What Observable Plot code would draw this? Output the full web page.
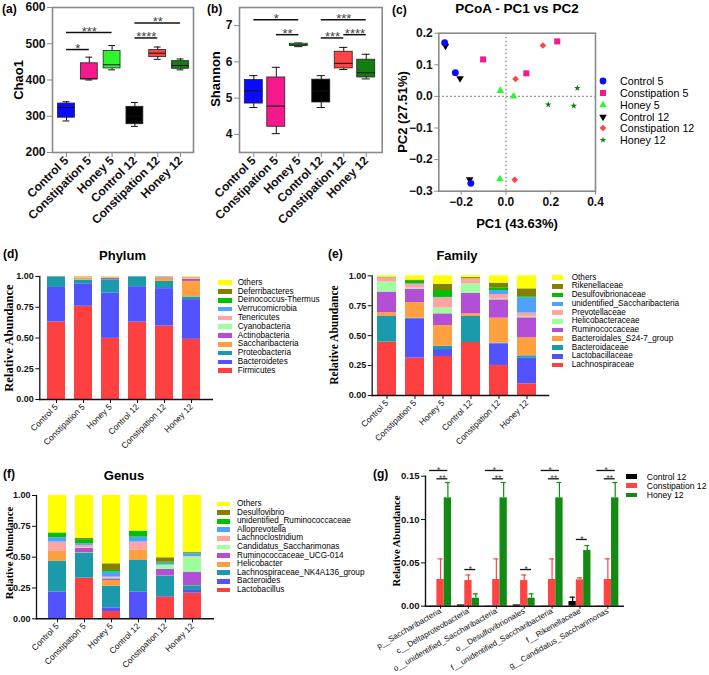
<!DOCTYPE html>
<html><head><meta charset="utf-8">
<script src="https://cdn.jsdelivr.net/npm/d3@7"></script>
<script src="https://cdn.jsdelivr.net/npm/@observablehq/plot@0.6"></script>
<style>
body{margin:0;background:#fff;}
#fig{position:relative;width:709px;height:675px;overflow:hidden;background:#fff;color:#000;}
#fig svg{position:absolute;background:none;max-width:none;}
</style></head><body><div id="fig"></div>
<script>
const SANS = '"Liberation Sans", Arial, Helvetica, sans-serif';
const SERIF = '"Liberation Serif", "Times New Roman", serif';

// ---------- shared groups ----------
const groups = ["Control 5", "Constipation 5", "Honey 5", "Control 12", "Constipation 12", "Honey 12"];
const groupColors = ["#0a0aff", "#f5198c", "#2ef52e", "#000000", "#ff4444", "#127e12"];

// ---------- (a) Chao1 box summaries ----------
const chao1Min    = [287, 400, 428, 272, 457, 428];
const chao1Q1     = [296, 402, 432, 278, 463, 431];
const chao1Median = [324, 403, 442, 300, 474, 440];
const chao1Q3     = [335, 446, 480, 326, 483, 452];
const chao1Max    = [340, 463, 495, 338, 491, 458];
const chao1Ticks  = [200, 300, 400, 500, 600];
const chao1SigFrom  = [0, 0, 3, 3];
const chao1SigTo    = [1, 2, 4, 5];
const chao1SigY     = [484, 531, 516, 557];
const chao1SigLabel = ["*", "***", "****", "**"];

// ---------- (b) Shannon box summaries ----------
const shannonMin    = [4.74, 4.02, 6.42, 4.74, 5.79, 5.53];
const shannonQ1     = [4.85, 4.21, 6.44, 4.88, 5.82, 5.57];
const shannonMedian = [5.20, 4.78, 6.47, 5.20, 5.96, 5.70];
const shannonQ3     = [5.50, 5.57, 6.50, 5.51, 6.28, 6.06];
const shannonMax    = [5.62, 5.85, 6.52, 5.62, 6.40, 6.21];
const shannonTicks  = [4, 5, 6, 7];
const shannonSigFrom  = [0, 1, 3, 3, 4];
const shannonSigTo    = [2, 2, 5, 4, 5];
const shannonSigY     = [7.16, 6.75, 7.16, 6.66, 6.75];
const shannonSigLabel = ["*", "**", "***", "***", "****"];

// ---------- (c) PCoA ----------
const pcoaGroup = ["Control 5","Control 5","Control 5","Constipation 5","Constipation 5","Constipation 5",
  "Honey 5","Honey 5","Honey 5","Control 12","Control 12","Control 12",
  "Constipation 12","Constipation 12","Constipation 12","Honey 12","Honey 12","Honey 12"];
const pc1 = [-0.274, -0.226, -0.157, -0.102, 0.091, 0.229, -0.025, 0.034, -0.027,
  -0.270, -0.205, -0.162, 0.165, 0.043, 0.039, 0.319, 0.189, 0.303];
const pc2 = [0.170, 0.075, -0.275, 0.117, 0.073, 0.174, 0.018, 0.000, -0.262,
  0.160, 0.057, -0.263, 0.161, 0.055, -0.264, 0.026, -0.026, -0.030];
const pcoaXTicks = [-0.2, 0, 0.2, 0.4];
const pcoaYTicks = [-0.3, -0.2, -0.1, 0, 0.1, 0.2];

// ---------- stacked composition (bottom -> top) ----------
const taxonPalette = ["#ff4040", "#5252ff", "#1a9aab", "#ffa040", "#b24fd6", "#9dff9d", "#ffa3a3", "#4da3ff", "#00c000", "#838000", "#ffff00"];

const phylumTaxa = ["Firmicutes","Bacteroidetes","Proteobacteria","Saccharibacteria","Actinobacteria","Cyanobacteria","Tenericutes","Verrucomicrobia","Deinococcus-Thermus","Deferribacteres","Others"];
const phylumShares = [
  [0.630, 0.758, 0.497, 0.629, 0.597, 0.489],
  [0.281, 0.183, 0.369, 0.288, 0.304, 0.323],
  [0.087, 0.029, 0.107, 0.081, 0.059, 0.021],
  [0.000, 0.013, 0.001, 0.000, 0.027, 0.127],
  [0.000, 0.003, 0.012, 0.000, 0.004, 0.018],
  [0.000, 0.001, 0.002, 0.000, 0.001, 0.002],
  [0.001, 0.005, 0.005, 0.001, 0.004, 0.010],
  [0.000, 0.001, 0.001, 0.000, 0.001, 0.001],
  [0.000, 0.001, 0.001, 0.000, 0.001, 0.001],
  [0.000, 0.003, 0.001, 0.000, 0.001, 0.002],
  [0.001, 0.003, 0.004, 0.001, 0.001, 0.006]
];

const familyTaxa = ["Lachnospiraceae","Lactobacillaceae","Bacteroidaceae","Bacteroidales_S24-7_group","Ruminococcaceae","Helicobacteraceae","Prevotellaceae","unidentified_Saccharibacteria","Desulfovibrionaceae","Rikenellaceae","Others"];
const familyShares = [
  [0.446, 0.312, 0.326, 0.443, 0.251, 0.097],
  [0.000, 0.329, 0.058, 0.000, 0.181, 0.215],
  [0.214, 0.005, 0.028, 0.217, 0.005, 0.019],
  [0.031, 0.131, 0.173, 0.022, 0.209, 0.151],
  [0.173, 0.112, 0.097, 0.173, 0.153, 0.167],
  [0.083, 0.008, 0.048, 0.078, 0.006, 0.006],
  [0.036, 0.031, 0.086, 0.042, 0.039, 0.033],
  [0.000, 0.005, 0.003, 0.000, 0.033, 0.128],
  [0.003, 0.020, 0.058, 0.004, 0.023, 0.009],
  [0.002, 0.011, 0.051, 0.007, 0.039, 0.066],
  [0.012, 0.036, 0.072, 0.014, 0.061, 0.109]
];

const genusTaxa = ["Lactobacillus","Bacteroides","Lachnospiraceae_NK4A136_group","Helicobacter","Ruminococcaceae_UCG-014","Candidatus_Saccharimonas","Lachnoclostridium","Alloprevotella","unidentified_Ruminococcaceae","Desulfovibrio","Others"];
const genusShares = [
  [0.000, 0.328, 0.059, 0.000, 0.176, 0.208],
  [0.217, 0.002, 0.030, 0.216, 0.005, 0.022],
  [0.248, 0.202, 0.176, 0.257, 0.162, 0.038],
  [0.084, 0.004, 0.046, 0.081, 0.003, 0.002],
  [0.002, 0.035, 0.013, 0.002, 0.054, 0.108],
  [0.000, 0.005, 0.006, 0.000, 0.032, 0.122],
  [0.071, 0.019, 0.008, 0.066, 0.004, 0.005],
  [0.036, 0.014, 0.040, 0.040, 0.015, 0.022],
  [0.037, 0.033, 0.014, 0.047, 0.008, 0.005],
  [0.002, 0.010, 0.054, 0.002, 0.036, 0.008],
  [0.303, 0.348, 0.554, 0.289, 0.505, 0.460]
];
const shareTicks = [0, 0.25, 0.5, 0.75, 1];

// ---------- (g) differential taxa ----------
const gTaxa = ["p__Saccharibacteria","c__Deltaproteobacteria","o__unidentified_Saccharibacteria","o__Desulfovibrionales","f__unidentified_Saccharibacteria","f__Rikenellaceae","g__Candidatus_Saccharimonas"];
const gSeries = ["Control 12", "Constipation 12", "Honey 12"];
const gColors = ["#000000", "#ff4444", "#138a13"];
const gControl     = [0.0003, 0.0015, 0.0003, 0.0015, 0.0003, 0.0054, 0.0003];
const gControlErr  = [0, 0, 0, 0, 0, 0.0050, 0];
const gConst       = [0.0308, 0.0296, 0.0308, 0.0296, 0.0308, 0.0304, 0.0308];
const gConstErr    = [0.0238, 0.0064, 0.0238, 0.0064, 0.0238, 0.0023, 0.0238];
const gHoney       = [0.1250, 0.0092, 0.1250, 0.0092, 0.1250, 0.0642, 0.1250];
const gHoneyErr    = [0.0177, 0.0050, 0.0177, 0.0050, 0.0177, 0.0058, 0.0177];
const gTicks = [0, 0.05, 0.10, 0.15];
const gSigTaxon = [0, 0, 1, 2, 2, 3, 4, 4, 5, 6, 6];
const gSigFrom  = [0, 1, 1, 0, 1, 1, 0, 1, 1, 0, 1];
const gSigTo    = [2, 2, 2, 2, 2, 2, 2, 2, 2, 2, 2];
const gSigY     = [0.1566, 0.147, 0.0423, 0.1566, 0.147, 0.0423, 0.1566, 0.147, 0.077, 0.1566, 0.147];
const gSigLabel = ["*", "**", "*", "*", "**", "*", "*", "**", "*", "*", "**"];

// ---------- helpers ----------
const fig = document.getElementById("fig");
function place(svg, left, top) {
  svg.style.position = "absolute";
  svg.style.left = left + "px";
  svg.style.top = top + "px";
  fig.appendChild(svg);
}
function label(txt, x, y, o = {}) {
  const d = document.createElement("div");
  d.textContent = txt;
  d.style.position = "absolute";
  d.style.whiteSpace = "nowrap";
  d.style.left = x + "px";
  d.style.top = y + "px";
  d.style.fontSize = (o.size || 12) + "px";
  d.style.fontWeight = o.weight || "normal";
  d.style.fontFamily = o.family || SANS;
  d.style.lineHeight = o.lh || "1";
  d.style.color = o.color || "#000";
  const tx = o.anchor === "middle" ? "-50%" : "0";
  d.style.transform = `translate(${tx},-50%)` + (o.rotate ? ` rotate(${o.rotate}deg)` : "");
  fig.appendChild(d);
}
function swatchLegend(items, colors, o) {
  items.forEach((t, i) => {
    const yc = o.y0 + i * o.dy;
    const s = document.createElement("div");
    s.style.cssText = `position:absolute;left:${o.x}px;top:${yc - o.sh / 2}px;width:${o.sw}px;height:${o.sh}px;background:${colors[i]}`;
    fig.appendChild(s);
    label(t, o.tx, yc + (o.tdy || 0), {size: o.size, lh: o.lh});
  });
}
const triangleDown = {
  draw(ctx, size) {
    const y = -Math.sqrt(size / (Math.sqrt(3) * 3));
    ctx.moveTo(0, -y * 2);
    ctx.lineTo(-Math.sqrt(3) * y, y);
    ctx.lineTo(Math.sqrt(3) * y, y);
    ctx.closePath();
  }
};

// ---------- (a) and (b) box plots ----------
function boxPanel(o) {
  const rows = groups.map((g, i) => ({i, min: o.min[i], q1: o.q1[i], med: o.med[i], q3: o.q3[i], max: o.max[i], color: groupColors[i]}));
  const sig = o.sigFrom.map((f, k) => ({a: f, b: o.sigTo[k], y: o.sigY[k], label: o.sigLabel[k]}));
  const svg = Plot.plot({
    width: o.width, height: o.height,
    marginLeft: o.ml, marginRight: o.mr, marginTop: o.mt, marginBottom: o.mb,
    x: {domain: o.xDomain, axis: null},
    y: {domain: o.yDomain, axis: null},
    color: {type: "identity"},
    style: {fontFamily: SANS, fontSize: "12px", fontWeight: "bold", background: "none", overflow: "visible", color: "#111"},
    marks: [
      Plot.ruleX(rows, {x: "i", y1: "min", y2: "max", stroke: "#111", strokeWidth: 1}),
      Plot.ruleY(rows, {y: "min", x1: d => d.i - o.cap, x2: d => d.i + o.cap, stroke: "#111", strokeWidth: 1}),
      Plot.ruleY(rows, {y: "max", x1: d => d.i - o.cap, x2: d => d.i + o.cap, stroke: "#111", strokeWidth: 1}),
      Plot.rect(rows, {x1: d => d.i - o.half, x2: d => d.i + o.half, y1: "q1", y2: "q3", fill: d => d.color, stroke: "#222", strokeWidth: 0.8}),
      Plot.ruleY(rows, {y: "med", x1: d => d.i - o.half, x2: d => d.i + o.half, stroke: "#111", strokeWidth: 1}),
      Plot.ruleY(sig, {y: "y", x1: "a", x2: "b", stroke: "#111", strokeWidth: 1.5}),
      Plot.text(sig, {x: d => (d.a + d.b) / 2, y: "y", text: "label", lineAnchor: "bottom", dy: 3, fill: "#444", fontSize: 13, fontWeight: "normal"}),
      Plot.frame({stroke: "#8a8a8a", strokeWidth: 1.6}),
      Plot.axisY({ticks: o.ticks, tickFormat: d3.format("d"), tickSize: 5, tickPadding: 2, stroke: "#8a8a8a", label: null}),
      Plot.axisX({ticks: d3.range(groups.length), tickFormat: i => groups[i], tickRotate: -45, tickSize: 5, tickPadding: 1, stroke: "#8a8a8a", label: null})
    ]
  });
  place(svg, o.left, o.top);
}

boxPanel({min: chao1Min, q1: chao1Q1, med: chao1Median, q3: chao1Q3, max: chao1Max,
  sigFrom: chao1SigFrom, sigTo: chao1SigTo, sigY: chao1SigY, sigLabel: chao1SigLabel,
  ticks: chao1Ticks, yDomain: [200, 600], xDomain: [-0.614, 5.57], half: 0.37, cap: 0.15,
  width: 200, height: 200, ml: 52, mr: 7, mt: 7, mb: 48, left: 0, top: 0});

boxPanel({min: shannonMin, q1: shannonQ1, med: shannonMedian, q3: shannonQ3, max: shannonMax,
  sigFrom: shannonSigFrom, sigTo: shannonSigTo, sigY: shannonSigY, sigLabel: shannonSigLabel,
  ticks: shannonTicks, yDomain: [3.5, 7.5], xDomain: [-0.636, 5.71], half: 0.4, cap: 0.18,
  width: 190, height: 200, ml: 39, mr: 8.3, mt: 7, mb: 48, left: 200, top: 0});

// ---------- (c) PCoA ----------
{
  const pts = pc1.map((x, k) => ({x, y: pc2[k], g: pcoaGroup[k]}));
  const syms = [d3.symbolCircle, d3.symbolSquare, d3.symbolTriangle, triangleDown, d3.symbolDiamond2, d3.symbolStar];
  const radii = [3.4, 3.4, 2.8, 2.8, 3.0, 2.1];
  const order = [3, 0, 1, 2, 4, 5];
  const dotMarks = order.map(gi => Plot.dot(pts.filter(p => p.g === groups[gi]), {x: "x", y: "y", symbol: syms[gi], r: radii[gi], fill: groupColors[gi], stroke: "none"}));
  const svg = Plot.plot({
    width: 230, height: 240,
    marginLeft: 53.3, marginRight: 20, marginTop: 32.7, marginBottom: 49.3,
    x: {domain: [-0.3, 0.4], axis: null},
    y: {domain: [-0.3, 0.2], axis: null},
    style: {fontFamily: SANS, fontSize: "12px", fontWeight: "bold", background: "none", overflow: "visible", color: "#111"},
    marks: [
      Plot.ruleX([0], {stroke: "#777", strokeDasharray: "1.5,2.5", strokeWidth: 1.2}),
      Plot.ruleY([0], {stroke: "#777", strokeDasharray: "1.5,2.5", strokeWidth: 1.2}),
      ...dotMarks,
      Plot.frame({stroke: "#8a8a8a", strokeWidth: 1.6}),
      Plot.axisY({ticks: pcoaYTicks, tickFormat: d3.format(".1f"), tickSize: 4, tickPadding: 2, stroke: "#8a8a8a", label: null}),
      Plot.axisX({ticks: pcoaXTicks, tickFormat: d3.format(".1f"), tickSize: 4, tickPadding: 2, stroke: "#8a8a8a", label: null})
    ]
  });
  place(svg, 385, 0);
  // legend
  groups.forEach((g, gi) => {
    const yc = 81 + gi * 11.85;
    const s = d3.create("svg").attr("width", 14).attr("height", 14)
      .style("position", "absolute").style("left", (602.7 - 7) + "px").style("top", (yc - 7) + "px").style("overflow", "visible");
    s.append("path").attr("transform", "translate(7,7)")
      .attr("d", d3.symbol(syms[gi], Math.PI * radii[gi] * radii[gi])()).attr("fill", groupColors[gi]);
    fig.appendChild(s.node());
    label(g, 620, yc, {size: 10.7});
  });
}

// ---------- (d), (e), (f) stacked bars ----------
function stackPanel(o) {
  const rows = [];
  groups.forEach((s, j) => o.taxa.forEach((t, k) => rows.push({sample: s, taxon: t, value: o.shares[k][j], color: taxonPalette[k]})));
  const svg = Plot.plot({
    width: o.width, height: o.height,
    marginLeft: o.ml, marginRight: o.mr, marginTop: o.mt, marginBottom: o.mb,
    x: {domain: groups, range: o.xRange, padding: o.pad, axis: null},
    y: {domain: [0, 1], axis: null},
    color: {type: "identity"},
    style: {fontFamily: SANS, fontSize: "8.5px", background: "none", overflow: "visible", color: "#111"},
    marks: [
      Plot.barY(rows, {x: "sample", y: "value", z: "taxon", fill: d => d.color}),
      Plot.frame({anchor: "left", stroke: "#111", strokeWidth: 1.3}),
      Plot.frame({anchor: "bottom", stroke: "#111", strokeWidth: 1.6}),
      Plot.axisY({ticks: shareTicks, tickFormat: d3.format(".2f"), tickSize: 4, tickPadding: 2, fontWeight: "bold", fontSize: 9, label: null}),
      Plot.axisX({tickRotate: -45, tickSize: 4, tickPadding: 2, fontSize: 8.5, label: null})
    ]
  });
  place(svg, o.left, o.top);
  swatchLegend(o.taxa.slice().reverse(), taxonPalette.slice().reverse(), o.legend);
}

stackPanel({taxa: phylumTaxa, shares: phylumShares, width: 215, height: 180, ml: 39.3, mr: 3.3, mt: 6, mb: 51,
  xRange: [34.6, 211.5], pad: 0.344, left: 0, top: 270,
  legend: {x: 218.3, sw: 13.3, sh: 4.7, tx: 237.7, y0: 282.7, dy: 8.8, size: 8.2}});
stackPanel({taxa: familyTaxa, shares: familyShares, width: 230, height: 180, ml: 46.7, mr: 7, mt: 5.3, mb: 55,
  xRange: [40.8, 222.4], pad: 0.337, left: 325, top: 270,
  legend: {x: 551.7, sw: 11.7, sh: 4.7, tx: 571.7, y0: 277.7, dy: 8.73, size: 8.2}});
stackPanel({taxa: genusTaxa, shares: genusShares, width: 215, height: 187, ml: 36, mr: 2.3, mt: 7, mb: 56.7,
  xRange: [36.35, 212.65], pad: 0.342, left: 0, top: 488,
  legend: {x: 217, sw: 13, sh: 4.7, tx: 237, y0: 504, dy: 8.6, size: 8.2}});

// ---------- (g) grouped bars ----------
{
  const vals = [gControl, gConst, gHoney];
  const errs = [gControlErr, gConstErr, gHoneyErr];
  const step = 0.263, hw = 0.131;
  const rows = [];
  gTaxa.forEach((t, i) => gSeries.forEach((s, si) => rows.push({x: i + (si - 1) * step, v: vals[si][i], e: errs[si][i], color: gColors[si]})));
  const errRows = rows.filter(d => d.e > 0);
  const sig = gSigTaxon.map((t, k) => ({x1: t + (gSigFrom[k] - 1) * step - hw, x2: t + (gSigTo[k] - 1) * step, y: gSigY[k], label: gSigLabel[k]}));
  const svg = Plot.plot({
    width: 275, height: 215,
    marginLeft: 70, marginRight: 7.3, marginTop: 15.7, marginBottom: 69.3,
    x: {domain: [-0.54, 6.55], axis: null},
    y: {domain: [0, 0.15], axis: null},
    color: {type: "identity"},
    style: {fontFamily: SANS, fontSize: "8px", background: "none", overflow: "visible", color: "#111"},
    marks: [
      Plot.ruleX(errRows, {x: "x", y1: "v", y2: d => d.v + d.e, stroke: d => d.color, strokeWidth: 1.2}),
      Plot.ruleY(errRows, {y: d => d.v + d.e, x1: d => d.x - 0.09, x2: d => d.x + 0.09, stroke: d => d.color, strokeWidth: 1.2}),
      Plot.rect(rows, {x1: d => d.x - hw, x2: d => d.x + hw, y1: 0, y2: "v", fill: d => d.color}),
      Plot.ruleY(sig, {y: "y", x1: "x1", x2: "x2", stroke: "#111", strokeWidth: 1.3}),
      Plot.text(sig, {x: d => (d.x1 + d.x2) / 2, y: "y", text: "label", lineAnchor: "bottom", dy: 2.5, fill: "#444", fontSize: 8.5}),
      Plot.frame({anchor: "left", stroke: "#111", strokeWidth: 1.4}),
      Plot.frame({anchor: "bottom", stroke: "#111", strokeWidth: 1.6}),
      Plot.axisY({ticks: gTicks, tickFormat: d3.format(".2f"), tickSize: 4, tickPadding: 2, fontWeight: "bold", fontSize: 9.5, label: null}),
      Plot.axisX({ticks: d3.range(gTaxa.length), tickFormat: i => gTaxa[i], tickRotate: -30, tickSize: 3, tickPadding: 1, fontSize: 8, label: null})
    ]
  });
  place(svg, 355, 460);
  swatchLegend(gSeries, gColors, {x: 626, sw: 11, sh: 4.7, tx: 646.7, y0: 476.5, dy: 9.2, size: 8.6, tdy: 0.5, lh: "1"});
}

// ---------- titles, panel letters, axis titles ----------
label("(a)", 2, 9, {size: 12, weight: "bold"});
label("(b)", 207, 9, {size: 12, weight: "bold"});
label("(c)", 392, 9.5, {size: 12, weight: "bold"});
label("(d)", 3, 254, {size: 12, weight: "bold"});
label("(e)", 328, 254, {size: 12, weight: "bold"});
label("(f)", 3, 473.5, {size: 12, weight: "bold"});
label("(g)", 373, 474, {size: 12, weight: "bold"});

label("PCoA - PC1 vs PC2", 517, 8.5, {size: 13.5, weight: "bold", anchor: "middle"});
label("Phylum", 122.5, 255, {size: 13, weight: "bold", anchor: "middle"});
label("Family", 457, 255, {size: 13, weight: "bold", anchor: "middle"});
label("Genus", 124, 474.5, {size: 13, weight: "bold", anchor: "middle"});

label("Chao1", 18, 80, {size: 13, weight: "bold", anchor: "middle", rotate: -90});
label("Shannon", 215, 79, {size: 13, weight: "bold", anchor: "middle", rotate: -90});
label("PC2 (27.51%)", 401.7, 112, {size: 13, weight: "bold", anchor: "middle", rotate: -90});
label("PC1 (43.63%)", 517, 223, {size: 13, weight: "bold", anchor: "middle"});
label("Relative Abundance", 8.5, 338, {size: 12.5, weight: "bold", family: SERIF, anchor: "middle", rotate: -90});
label("Relative Abundance", 335, 335, {size: 11.6, weight: "bold", family: SERIF, anchor: "middle", rotate: -90});
label("Relative Abundance", 8.5, 553, {size: 10.8, weight: "bold", family: SERIF, anchor: "middle", rotate: -90});
label("Relative Abundance", 396.7, 541, {size: 10.6, weight: "bold", family: SERIF, anchor: "middle", rotate: -90});
</script></body></html>
